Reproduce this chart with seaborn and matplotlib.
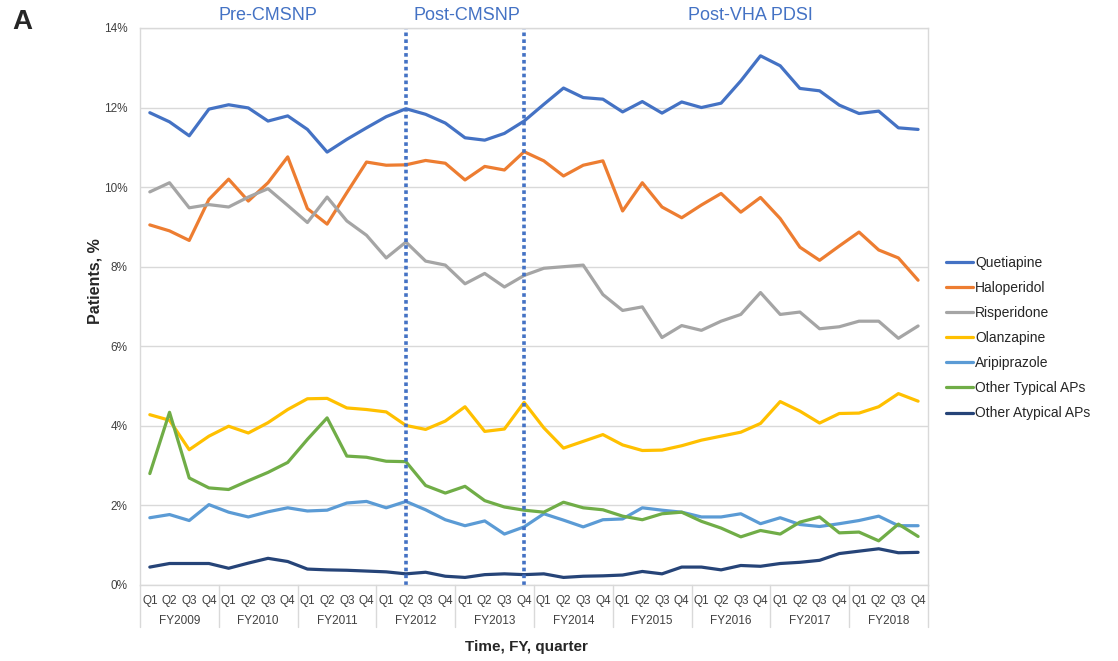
import pandas as pd
import matplotlib
matplotlib.use("Agg")
import matplotlib.pyplot as plt
import matplotlib.ticker as mticker
import seaborn as sns

# Data: share of patients (%) per fiscal quarter, FY2009 Q1 .. FY2018 Q4
years = ["FY2009", "FY2010", "FY2011", "FY2012", "FY2013",
         "FY2014", "FY2015", "FY2016", "FY2017", "FY2018"]
quarters = ["Q1", "Q2", "Q3", "Q4"]

quetiapine = [11.87, 11.64, 11.29, 11.96, 12.07, 11.99, 11.66, 11.79, 11.45, 10.88,
              11.20, 11.49, 11.77, 11.97, 11.83, 11.61, 11.24, 11.18, 11.35, 11.66,
              12.08, 12.49, 12.25, 12.21, 11.89, 12.15, 11.86, 12.14, 12.00, 12.11,
              12.67, 13.30, 13.05, 12.48, 12.42, 12.06, 11.85, 11.91, 11.49, 11.45]
haloperidol = [9.05, 8.90, 8.66, 9.69, 10.20, 9.65, 10.11, 10.76, 9.46, 9.07,
               9.86, 10.63, 10.55, 10.56, 10.67, 10.60, 10.18, 10.52, 10.43, 10.89,
               10.66, 10.28, 10.55, 10.66, 9.40, 10.11, 9.50, 9.23, 9.55, 9.84,
               9.37, 9.74, 9.21, 8.49, 8.16, 8.52, 8.87, 8.42, 8.22, 7.66]
risperidone = [9.88, 10.11, 9.48, 9.56, 9.50, 9.75, 9.96, 9.54, 9.11, 9.75,
               9.15, 8.79, 8.22, 8.62, 8.14, 8.04, 7.57, 7.83, 7.49, 7.78,
               7.96, 8.00, 8.04, 7.30, 6.90, 6.99, 6.22, 6.52, 6.40, 6.63,
               6.80, 7.35, 6.80, 6.86, 6.44, 6.49, 6.63, 6.63, 6.20, 6.51]
olanzapine = [4.28, 4.14, 3.40, 3.74, 3.99, 3.82, 4.08, 4.41, 4.68, 4.69,
              4.45, 4.41, 4.35, 4.01, 3.91, 4.12, 4.48, 3.86, 3.92, 4.59,
              3.95, 3.44, 3.61, 3.78, 3.52, 3.38, 3.39, 3.50, 3.64, 3.74,
              3.84, 4.06, 4.61, 4.37, 4.07, 4.31, 4.32, 4.48, 4.81, 4.62]
aripiprazole = [1.69, 1.77, 1.62, 2.02, 1.83, 1.71, 1.84, 1.94, 1.86, 1.88,
                2.06, 2.10, 1.94, 2.10, 1.89, 1.64, 1.49, 1.61, 1.28, 1.46,
                1.79, 1.63, 1.46, 1.64, 1.66, 1.94, 1.88, 1.83, 1.71, 1.71,
                1.79, 1.54, 1.69, 1.52, 1.47, 1.54, 1.62, 1.73, 1.49, 1.49]
other_typical = [2.80, 4.34, 2.69, 2.44, 2.40, 2.62, 2.83, 3.08, 3.66, 4.20,
                 3.24, 3.21, 3.11, 3.10, 2.50, 2.31, 2.48, 2.12, 1.96, 1.88,
                 1.83, 2.08, 1.94, 1.89, 1.73, 1.64, 1.79, 1.83, 1.60, 1.43,
                 1.21, 1.37, 1.28, 1.58, 1.71, 1.31, 1.33, 1.11, 1.53, 1.22]
other_atypical = [0.45, 0.54, 0.54, 0.54, 0.42, 0.55, 0.67, 0.59, 0.40, 0.38,
                  0.37, 0.35, 0.33, 0.28, 0.32, 0.22, 0.19, 0.26, 0.28, 0.26,
                  0.28, 0.19, 0.22, 0.23, 0.25, 0.34, 0.28, 0.45, 0.45, 0.38,
                  0.49, 0.47, 0.54, 0.57, 0.62, 0.79, 0.85, 0.91, 0.81, 0.82]

series_names = ["Quetiapine", "Haloperidol", "Risperidone", "Olanzapine",
                "Aripiprazole", "Other Typical APs", "Other Atypical APs"]
series_values = [quetiapine, haloperidol, risperidone, olanzapine,
                 aripiprazole, other_typical, other_atypical]
colors = ["#4472C4", "#ED7D31", "#A5A5A5", "#FFC000",
          "#5B9BD5", "#70AD47", "#264478"]

# policy periods (label, x position in quarter index) and breakpoints
periods = [("Pre-CMSNP", 6.0), ("Post-CMSNP", 16.1), ("Post-VHA PDSI", 30.5)]
breakpoints = [13, 19]  # FY2012 Q2, FY2013 Q4

rows = []
for name, vals in zip(series_names, series_values):
    for i, v in enumerate(vals):
        rows.append({"idx": i, "pct": v, "drug": name})
df = pd.DataFrame(rows)

sns.set_style("white")
plt.rcParams["font.family"] = ["Liberation Sans", "DejaVu Sans"]

fig = plt.figure(figsize=(11.18, 6.61), dpi=100)
ax = fig.add_axes([0.1252, 0.1150, 0.7048, 0.8427])

sns.lineplot(data=df, x="idx", y="pct", hue="drug", hue_order=series_names,
             palette=colors, linewidth=2.3, ax=ax)

n = len(quetiapine)
ax.set_xlim(-0.5, n - 0.5)
ax.set_ylim(0, 14)
ax.yaxis.set_major_locator(mticker.MultipleLocator(2))
ax.yaxis.set_major_formatter(mticker.FuncFormatter(lambda v, p: f"{v:.0f}%"))
ax.grid(axis="y", color="#D9D9D9", linewidth=1)
for s in ax.spines.values():
    s.set_color("#D9D9D9")
    s.set_linewidth(1)

# quarter tick labels
ax.set_xticks(range(n))
ax.set_xticklabels(quarters * len(years))
ax.tick_params(axis="x", length=0, pad=7, labelsize=8.5, colors="#404040")
ax.tick_params(axis="y", length=0, pad=9, labelsize=8.5, colors="#404040")

# fiscal-year row and separators
trans = ax.get_xaxis_transform()
for k, yr in enumerate(years):
    ax.text(k * 4 + 1.5, -0.064, yr, transform=trans, ha="center", va="center",
            fontsize=8.5, color="#404040")
for k in range(len(years) + 1):
    ax.plot([k * 4 - 0.5, k * 4 - 0.5], [0, -0.076], transform=trans,
            color="#D9D9D9", linewidth=1, clip_on=False)

# policy change markers
for b in breakpoints:
    ax.axvline(b, color="#4472C4", linewidth=2.6, linestyle=(0, (1.0, 0.9)))
for label, xp in periods:
    ax.text(xp, 1.022, label, transform=trans, ha="center", va="center",
            fontsize=13, color="#4472C4")

ax.set_xlabel("Time, FY, quarter", fontsize=11, fontweight="bold")
ax.set_ylabel("Patients, %", fontsize=11.5, fontweight="bold")
ax.xaxis.set_label_coords(0.49, -0.099)
ax.yaxis.set_label_coords(-0.047, 0.545)

handles, labels = ax.get_legend_handles_labels()
ax.get_legend().remove()
fig.legend(handles, labels, loc="center left", bbox_to_anchor=(0.846, 0.4886),
           frameon=False, fontsize=10, handlelength=1.95, handletextpad=0.15,
           labelspacing=0.8, borderpad=0, borderaxespad=0, labelcolor="#262626")

fig.text(0.011, 0.967, "A", fontsize=20, fontweight="bold", ha="left", va="center")

fig.savefig("out.png", dpi=100)
